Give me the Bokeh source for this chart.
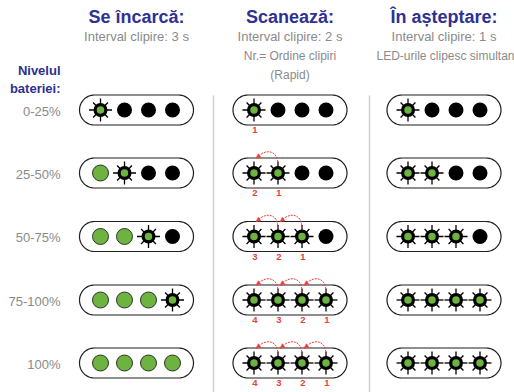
import numpy as np
from bokeh.plotting import figure
from bokeh.models import Range1d
from bokeh.core.properties import value
from bokeh.embed import file_html
from bokeh.resources import INLINE

# ---------------- data ----------------
modes = ["Se încarcă:", "Scanează:", "În așteptare:"]
intervals = ["Interval clipire: 3 s", "Interval clipire: 2 s", "Interval clipire: 1 s"]
scan_notes = ["Nr.= Ordine clipiri", "(Rapid)"]
standby_note = "LED-urile clipesc simultan"
axis_title = ["Nivelul", "bateriei:"]
levels = ["0-25%", "25-50%", "50-75%", "75-100%", "100%"]
# LED state: 0 = off (black), 1 = on (green), 2 = blinking
charging = [[2, 0, 0, 0], [1, 2, 0, 0], [1, 1, 2, 0], [1, 1, 1, 2], [1, 1, 1, 1]]
scanning = [[2, 0, 0, 0], [2, 2, 0, 0], [2, 2, 2, 0], [2, 2, 2, 2], [2, 2, 2, 2]]
standby = [[2, 0, 0, 0], [2, 2, 0, 0], [2, 2, 2, 0], [2, 2, 2, 2], [2, 2, 2, 2]]
scan_order = [["1", "", "", ""], ["2", "1", "", ""], ["3", "2", "1", ""],
              ["4", "3", "2", "1"], ["4", "3", "2", "1"]]

# ---------------- layout / style ----------------
FONT = "Liberation Sans"
NAVY = "#2e3192"
GRAY = "#8a8a8a"
RED = "#e8403a"
GREEN = "#6cb33f"
col_x = [136, 289.5, 443.5]
row_y = [109.5, 172.5, 236, 299.5, 362.5]
led_dx = [-36, -12, 12, 36]

p = figure(width=514, height=392, x_range=Range1d(0, 514), y_range=Range1d(392, 0),
           output_backend="svg", toolbar_location=None, min_border=0,
           x_axis_location=None, y_axis_location=None, title=None)
p.grid.visible = False
p.outline_line_color = None
p.background_fill_color = "white"

# dividers
p.segment(x0=[213, 369], y0=[95, 95], x1=[213, 369], y1=[392, 392],
          line_color="#d0d0d0", line_width=1.5)

# headers
p.text(x=col_x, y=[16] * 3, text=modes, text_font=value(FONT), text_font_size="18px",
       text_font_style="bold", text_color=NAVY, text_align="center", text_baseline="middle")
p.text(x=col_x, y=[36] * 3, text=intervals, text_font=value(FONT), text_font_size="13px",
       text_color=GRAY, text_align="center", text_baseline="middle")
p.text(x=[col_x[1]] * 2, y=[55, 74], text=scan_notes, text_font=value(FONT),
       text_font_size="12px", text_color=GRAY, text_align="center", text_baseline="middle")
p.text(x=[445], y=[55], text=[standby_note], text_font=value(FONT),
       text_font_size="12px", text_color=GRAY, text_align="center", text_baseline="middle")

# left labels
p.text(x=[60, 60], y=[70, 88], text=axis_title, text_font=value(FONT), text_font_size="13px",
       text_font_style="bold", text_color=NAVY, text_align="right", text_baseline="middle")
p.text(x=[60] * len(levels), y=[r + 1 for r in row_y], text=levels, text_font=value(FONT),
       text_font_size="13px", text_color=GRAY, text_align="right", text_baseline="middle")

# pills
pxs, pys = [], []
t_r = np.linspace(-np.pi / 2, np.pi / 2, 30)
t_l = np.linspace(np.pi / 2, 3 * np.pi / 2, 30)
for cx in col_x:
    for cy in row_y:
        xs = np.concatenate([cx + 42 + 15 * np.cos(t_r), cx - 42 + 15 * np.cos(t_l)])
        ys = np.concatenate([cy + 15 * np.sin(t_r), cy + 15 * np.sin(t_l)])
        pxs.append(list(xs))
        pys.append(list(ys))
p.patches(pxs, pys, fill_color="white", line_color="#1e1e1e", line_width=1.2)

# LEDs
off_x, off_y, on_x, on_y, bl_x, bl_y = [], [], [], [], [], []
for ci, states in enumerate([charging, scanning, standby]):
    for ri, row in enumerate(states):
        for li, s in enumerate(row):
            x = col_x[ci] + led_dx[li]
            y = row_y[ri]
            if s == 0:
                off_x.append(x); off_y.append(y)
            elif s == 1:
                on_x.append(x); on_y.append(y)
            else:
                bl_x.append(x); bl_y.append(y)

p.scatter(off_x, off_y, size=15, fill_color="black", line_color=None)
p.scatter(on_x, on_y, size=16, fill_color=GREEN, line_color="#333333", line_width=1)

angles = np.arange(8) * np.pi / 4
rx0, ry0, rx1, ry1 = [], [], [], []
for x, y in zip(bl_x, bl_y):
    for k, a in enumerate(angles):
        r1 = 11.5 if k % 2 == 0 else 10.5
        rx0.append(x + 5 * np.cos(a)); ry0.append(y + 5 * np.sin(a))
        rx1.append(x + r1 * np.cos(a)); ry1.append(y + r1 * np.sin(a))
p.segment(x0=rx0, y0=ry0, x1=rx1, y1=ry1, line_color="black", line_width=1.3)
p.scatter(bl_x, bl_y, size=14, fill_color="black", line_color=None)
p.scatter(bl_x, bl_y, size=7.5, fill_color=GREEN, line_color=None)

# scan order numbers and arcs
nx, ny, nt = [], [], []
bx0, by0, bx1, by1, bcx0, bcy0, bcx1, bcy1 = [], [], [], [], [], [], [], []
hx, hy = [], []
for ri, row in enumerate(scan_order):
    cy = row_y[ri]
    for li, lab in enumerate(row):
        if lab:
            nx.append(col_x[1] + led_dx[li] + 1); ny.append(cy + 20); nt.append(lab)
        if lab and li > 0:
            x2 = col_x[1] + led_dx[li]
            x1 = col_x[1] + led_dx[li - 1]
            ex, ey = x1 + 3.5, cy - 16
            bx0.append(x2); by0.append(cy - 8)
            bx1.append(ex); by1.append(ey)
            bcx0.append(x2); bcy0.append(cy - 24)
            bcx1.append(x1 + 11); bcy1.append(cy - 24)
            d = np.array([-1.0, 0.75]); d /= np.linalg.norm(d)
            n = np.array([-d[1], d[0]])
            tip = np.array([ex - 1.5, ey + 1.2])
            base = tip - d * 4.5
            hx.append([tip[0], base[0] + n[0] * 2.3, base[0] - n[0] * 2.3])
            hy.append([tip[1], base[1] + n[1] * 2.3, base[1] - n[1] * 2.3])
p.bezier(x0=bx0, y0=by0, x1=bx1, y1=by1, cx0=bcx0, cy0=bcy0, cx1=bcx1, cy1=bcy1,
         line_color=RED, line_width=1, line_dash="2 1")
p.patches(hx, hy, fill_color=RED, line_color=RED, line_width=0.5)
p.text(x=nx, y=ny, text=nt, text_font=value(FONT), text_font_size="9.5px",
       text_font_style="bold", text_color=RED, text_align="center", text_baseline="middle")

open("out.html", "w").write(file_html(p, INLINE))
